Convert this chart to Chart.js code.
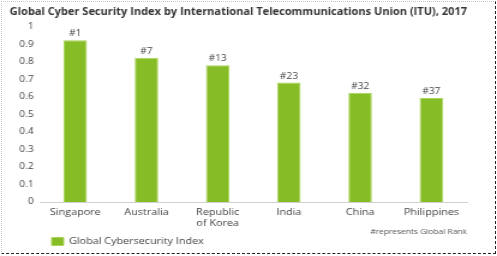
<!DOCTYPE html>
<html><head><meta charset="utf-8">
<script src="https://cdn.jsdelivr.net/npm/chart.js@4/dist/chart.umd.min.js"></script>
<style>
html,body{margin:0;padding:0;background:#fff;}
#wrap{position:relative;width:497px;height:256px;overflow:hidden;}
#c{position:absolute;left:0;top:0;}
#frame{position:absolute;left:1px;top:1px;width:493px;height:251px;border-left:1px dotted #c8c8c8;border-top:1px dotted #c8c8c8;border-right:1px dashed #222;border-bottom:1px dashed #222;pointer-events:none;}
</style></head>
<body><div id="wrap"><canvas id="c" width="414" height="256" style="width:497px;height:256px;"></canvas><div id="frame"></div></div>
<script>
const categories = [["Singapore"], ["Australia"], ["Republic", "of Korea"], ["India"], ["China"], ["Philippines"]];
const indexValues = [0.925, 0.824, 0.782, 0.683, 0.624, 0.594];
const rankLabels = ["#1", "#7", "#13", "#23", "#32", "#37"];
const seriesName = "Global Cybersecurity Index";
const titleText = "Global Cyber Security Index by International Telecommunications Union (ITU), 2017";
const footnote = "#represents Global Rank";

const FONT = "'Open Sans', sans-serif";

const extras = {
  id: 'extras',
  afterDatasetsDraw(chart) {
    const ctx = chart.ctx;
    const meta = chart.getDatasetMeta(0);
    ctx.save();
    ctx.fillStyle = '#444';
    ctx.font = "8.5px " + FONT;
    ctx.textAlign = 'center';
    ctx.textBaseline = 'bottom';
    meta.data.forEach((bar, i) => {
      const p = bar.getProps(['x', 'y'], true);
      ctx.fillText(rankLabels[i], p.x, p.y - 2);
    });
    ctx.font = "7px " + FONT;
    ctx.textAlign = 'right';
    ctx.textBaseline = 'middle';
    ctx.fillStyle = '#555';
    ctx.fillText(footnote, chart.chartArea.right, 232);
    ctx.restore();
  }
};

new Chart(document.getElementById('c'), {
  type: 'bar',
  data: {
    labels: categories,
    datasets: [{
      label: seriesName,
      data: indexValues,
      backgroundColor: '#86bc25',
      borderColor: '#a9d35a',
      borderWidth: 1,
      barPercentage: 0.33,
      categoryPercentage: 1
    }]
  },
  options: {
    responsive: false,
    animation: false,
    devicePixelRatio: 1,
    layout: { padding: { left: 8, right: 25, top: 0, bottom: 0 } },
    scales: {
      x: {
        grid: { display: false, drawTicks: false },
        border: { color: '#d0d0d0', width: 1 },
        ticks: { color: '#444', font: { family: FONT, size: 9 }, padding: 5, maxRotation: 0, autoSkip: false },
        afterFit: s => { s.height = 25; }
      },
      y: {
        min: 0, max: 1,
        grid: { display: false, drawTicks: false },
        border: { display: false },
        ticks: { stepSize: 0.1, color: '#444', font: { family: FONT, size: 8.5 }, padding: 5,
          callback: v => String(Math.round(v * 10) / 10) },
        afterFit: s => { s.width = 25; }
      }
    },
    plugins: {
      title: {
        display: true, text: titleText, align: 'start', color: '#333',
        font: { family: FONT, size: 10, weight: 'bold' },
        padding: { top: 6, bottom: 9 }
      },
      legend: {
        position: 'bottom', align: 'start', fullSize: false,
        labels: { boxWidth: 10, boxHeight: 8, color: '#444', font: { family: FONT, size: 9 }, padding: 10 }
      },
      tooltip: { enabled: false }
    }
  },
  plugins: [extras]
});
</script></body></html>
